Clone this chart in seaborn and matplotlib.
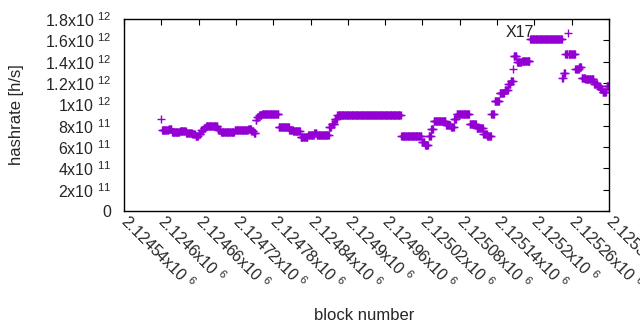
"""
Hashrate per block (gnuplot-style scatter) recreated with seaborn.
Saves out.png (640x330).
"""

import pandas as pd
import matplotlib
matplotlib.use("Agg")
import matplotlib.pyplot as plt
import seaborn as sns

# ─── Data ─────────────────────────────────────────────────────────────────────
# blocks where the estimated hashrate changes, and the value held from there
CHANGE_BLOCKS = [
    2124600, 2124601, 2124612, 2124617, 2124630, 2124640, 2124650, 2124655,
    2124660, 2124664, 2124668, 2124672, 2124691, 2124696, 2124718, 2124735,
    2124740, 2124745, 2124749, 2124752, 2124754, 2124757, 2124762, 2124789,
    2124806, 2124812, 2124824, 2124836, 2124846, 2124850, 2124870, 2124874,
    2124879, 2124883, 2124986, 2125019, 2125024, 2125030, 2125034, 2125038,
    2125058, 2125066, 2125071, 2125075, 2125096, 2125107, 2125118, 2125124,
    2125131, 2125136, 2125144, 2125152, 2125158, 2125162, 2125166, 2125167,
    2125172, 2125180, 2125193, 2125245, 2125247, 2125250, 2125254, 2125255,
    2125266, 2125272, 2125276, 2125282, 2125296, 2125302, 2125306, 2125310,
    2125316,
]
HASHRATE_E11 = [
    8.6, 7.6, 7.7, 7.4, 7.5, 7.3, 7.2, 7.0,
    7.2, 7.6, 7.8, 7.95, 7.6, 7.45, 7.55, 7.6,
    7.7, 7.5, 7.3, 8.5, 8.8, 9.0, 9.1, 7.9,
    7.6, 7.5, 6.9, 7.15, 7.35, 7.15, 7.9, 8.2,
    8.6, 9.0, 7.0, 6.5, 6.2, 7.0, 7.7, 8.45,
    8.1, 7.9, 8.6, 9.1, 8.2, 7.8, 7.2, 7.05,
    9.05, 10.3, 11.1, 11.3, 11.9, 12.2, 13.3, 14.5,
    14.0, 14.1, 16.1, 12.5, 12.9, 14.7, 16.7, 14.7,
    13.3, 13.5, 12.5, 12.35, 11.9, 11.7, 11.4, 11.2,
    11.7,
]
LAST_BLOCK = 2125320

X_TICKS = [2124540, 2124600, 2124660, 2124720, 2124780, 2124840, 2124900,
           2124960, 2125020, 2125080, 2125140, 2125200, 2125260, 2125320]
X_TICK_LABELS = ["2.12454", "2.1246", "2.12466", "2.12472", "2.12478",
                 "2.12484", "2.1249", "2.12496", "2.12502", "2.12508",
                 "2.12514", "2.1252", "2.12526", "2.12532"]
Y_TICKS = [0, 2e11, 4e11, 6e11, 8e11, 1e12, 1.2e12, 1.4e12, 1.6e12, 1.8e12]
Y_TICK_LABELS = ["0", "2x10 $^{11}$", "4x10 $^{11}$", "6x10 $^{11}$",
                 "8x10 $^{11}$", "1x10 $^{12}$", "1.2x10 $^{12}$",
                 "1.4x10 $^{12}$", "1.6x10 $^{12}$", "1.8x10 $^{12}$"]

ANNOT_TEXT = "X17"
ANNOT_BLOCK = 2125153
ANNOT_VALUE = 1.67e12

COLOR = "#9400d3"

# step series: value held per block until the next change
steps = pd.Series([v * 1e11 for v in HASHRATE_E11], index=CHANGE_BLOCKS)
df = (steps.reindex(range(CHANGE_BLOCKS[0], LAST_BLOCK + 1)).ffill()
      .rename("hashrate").rename_axis("block").reset_index())

# ─── Plot ─────────────────────────────────────────────────────────────────────
sns.set_style("white")
plt.rcParams["font.family"] = ["Liberation Sans", "DejaVu Sans"]
plt.rcParams["mathtext.fontset"] = "custom"
plt.rcParams["mathtext.rm"] = "Liberation Sans"
plt.rcParams["mathtext.it"] = "Liberation Sans"

fig = plt.figure(figsize=(6.4, 3.3), dpi=100)
ax = fig.add_axes([124 / 640, 1 - 211 / 330, 485 / 640, 192 / 330])

sns.scatterplot(data=df, x="block", y="hashrate", marker="+", s=36,
                color=COLOR, linewidth=1.0, ax=ax, legend=False)

ax.set_xlim(X_TICKS[0], X_TICKS[-1])
ax.set_ylim(0, 1.8e12)

ax.set_yticks(Y_TICKS)
ax.set_yticklabels(Y_TICK_LABELS, fontsize=11.5)
ax.set_xticks(X_TICKS)
ax.set_xticklabels([f"{t}x10 $^{{6}}$" for t in X_TICK_LABELS], fontsize=11.5,
                   rotation=-45, ha="left", va="center",
                   rotation_mode="anchor")

ax.tick_params(direction="in", length=4, width=0.8, color="black",
               top=True, right=True)
ax.tick_params(axis="y", pad=9)
ax.tick_params(axis="x", pad=5)
for sp in ax.spines.values():
    sp.set_color("black")
    sp.set_linewidth(1.0)

ax.set_xlabel("")
ax.set_ylabel("")
fig.text(364 / 640, 1 - 315 / 330, "block number", ha="center", va="center",
         fontsize=12)
fig.text(17 / 640, 1 - 115 / 330, "hashrate [h/s]", ha="center", va="center",
         rotation=90, fontsize=12)

ax.text(ANNOT_BLOCK, ANNOT_VALUE, ANNOT_TEXT, ha="left", va="center",
        fontsize=11.5, color="#222222")

fig.savefig("out.png", dpi=100)
plt.close(fig)
